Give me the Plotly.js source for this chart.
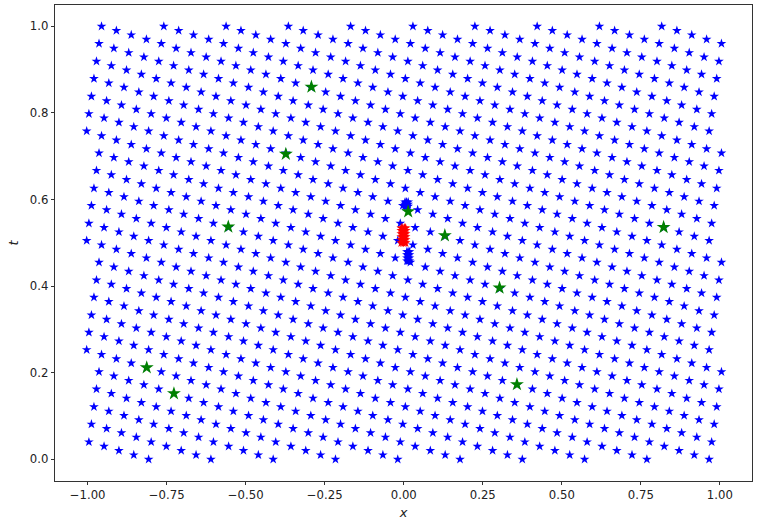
<!DOCTYPE html>
<html>
<head>
<meta charset="utf-8">
<script src="https://cdn.plot.ly/plotly-3.0.1.min.js"></script>
<style>html,body{margin:0;padding:0;background:#fff;}#chart{width:759px;height:523px;}</style>
</head>
<body>
<div id="chart"></div>
<script>
// t value of each horizontal level of collocation points (top to bottom)
const tLevels = [1.000,0.990,0.980,0.970,0.960,0.949,0.939,0.929,0.919,0.909,
0.899,0.889,0.879,0.869,0.859,0.848,0.838,0.828,0.818,0.808,
0.798,0.788,0.778,0.768,0.758,0.747,0.737,0.727,0.717,0.707,
0.697,0.687,0.677,0.667,0.657,0.646,0.636,0.626,0.616,0.606,
0.596,0.586,0.576,0.566,0.556,0.545,0.535,0.525,0.515,0.505,
0.495,0.485,0.475,0.465,0.455,0.444,0.434,0.424,0.414,0.404,
0.394,0.384,0.374,0.364,0.354,0.343,0.333,0.323,0.313,0.303,
0.293,0.283,0.273,0.263,0.253,0.242,0.232,0.222,0.212,0.202,
0.192,0.182,0.172,0.162,0.152,0.141,0.131,0.121,0.111,0.101,
0.091,0.081,0.071,0.061,0.051,0.040,0.030,0.020,0.010,0.000];

// x positions of the stars in each distinct row pattern
const xRows = [
[-0.956,-0.759,-0.562,-0.365,-0.168,0.029,0.225,0.422,0.619,0.816],
[-0.948,-0.751,-0.554,-0.357,-0.161,0.036,0.233,0.430,0.627,0.824],
[-0.940,-0.743,-0.547,-0.350,-0.153,0.044,0.241,0.438,0.635,0.832],
[-0.933,-0.736,-0.539,-0.342,-0.145,0.052,0.249,0.446,0.643,0.840],
[-0.925,-0.728,-0.531,-0.334,-0.137,0.060,0.257,0.454,0.651,0.848],
[-0.917,-0.720,-0.523,-0.326,-0.129,0.068,0.265,0.462,0.659,0.856],
[-0.909,-0.712,-0.515,-0.318,-0.121,0.076,0.273,0.470,0.667,0.864],
[-0.901,-0.704,-0.507,-0.310,-0.113,0.084,0.281,0.478,0.674,0.871],
[-0.893,-0.696,-0.499,-0.302,-0.105,0.092,0.288,0.485,0.682,0.879],
[-0.885,-0.688,-0.491,-0.294,-0.098,0.099,0.296,0.493,0.690,0.887],
[-0.877,-0.680,-0.484,-0.287,-0.090,0.107,0.304,0.501,0.698,0.895],
[-0.870,-0.673,-0.476,-0.279,-0.082,0.115,0.312,0.509,0.706,0.903],
[-0.862,-0.665,-0.468,-0.271,-0.074,0.123,0.320,0.517,0.714,0.911],
[-0.854,-0.657,-0.460,-0.263,-0.066,0.131,0.328,0.525,0.722,0.919],
[-0.846,-0.649,-0.452,-0.255,-0.058,0.139,0.336,0.533,0.730,0.927],
[-0.838,-0.641,-0.444,-0.247,-0.050,0.147,0.344,0.541,0.737,0.934],
[-0.830,-0.633,-0.436,-0.239,-0.042,0.155,0.351,0.548,0.745,0.942],
[-0.822,-0.625,-0.428,-0.231,-0.035,0.162,0.359,0.556,0.753,0.950],
[-0.814,-0.617,-0.421,-0.224,-0.027,0.170,0.367,0.564,0.761,0.958],
[-1.003,-0.807,-0.610,-0.413,-0.216,-0.019,0.178,0.375,0.572,0.769,0.966],
[-0.996,-0.799,-0.602,-0.405,-0.208,-0.011,0.186,0.383,0.580,0.777,0.974],
[-0.988,-0.791,-0.594,-0.397,-0.200,-0.003,0.194,0.391,0.588,0.785,0.982],
[-0.980,-0.783,-0.586,-0.389,-0.192,0.005,0.202,0.399,0.596,0.793,0.990],
[-0.972,-0.775,-0.578,-0.381,-0.184,0.013,0.210,0.407,0.604,0.801,0.997],
[-0.964,-0.767,-0.570,-0.373,-0.176,0.021,0.218,0.415,0.611,0.808,1.005],
[-0.807,-0.610,-0.413,-0.216,-0.019,0.178,0.375,0.572,0.769,0.966]
];

// which row pattern each level uses
const levelRow = [0,6,12,18,24,5,11,17,23,4,10,16,22,3,9,15,21,2,8,14,20,1,7,13,19,
0,6,12,18,24,5,11,17,23,4,10,16,22,3,9,15,21,2,8,14,20,1,7,13,19,
0,6,12,18,24,5,11,17,23,4,10,16,22,3,9,15,21,2,8,14,20,1,7,13,19,
0,6,12,18,24,5,11,17,23,4,10,16,22,3,9,15,21,2,8,14,20,1,7,13,25];

// green points
const greenX = [-0.292,-0.373,-0.555,-0.813,-0.727,0.358,0.014,0.130,0.303,0.822];
const greenT = [0.860,0.705,0.537,0.212,0.152,0.173,0.572,0.517,0.396,0.536];

// red cluster near the centre
const redX = [-0.008,-0.003,0.002,0.006,-0.008,-0.003,0.002,0.006,-0.008,-0.003,0.002,0.006,
              -0.008,-0.003,0.002,0.006,-0.008,-0.003,0.002,0.006,-0.008,-0.003,0.002,0.006];
const redT = [0.500,0.500,0.500,0.500,0.507,0.507,0.507,0.507,0.514,0.514,0.514,0.514,
              0.521,0.521,0.521,0.521,0.528,0.528,0.528,0.528,0.534,0.534,0.534,0.534];

// dense blue clusters above and below the red one
const clusterX = [0.004,0.009,0.014,0.004,0.009,0.014,0.004,0.009,0.014,
                  0.010,0.014,0.018,0.010,0.014,0.018,0.010,0.014,0.018,0.010,0.014,0.018];
const clusterT = [0.584,0.584,0.584,0.589,0.589,0.589,0.594,0.594,0.594,
                  0.458,0.458,0.458,0.465,0.465,0.465,0.472,0.472,0.472,0.479,0.479,0.479];

const blueX = [], blueT = [];
for (let m = 0; m < tLevels.length; m++) {
  const row = xRows[levelRow[m]];
  for (let i = 0; i < row.length; i++) { blueX.push(row[i]); blueT.push(tLevels[m]); }
}

const BLUE = '#0000ff', GREEN = '#008000', RED = '#ff0000';
const traces = [
  {x: blueX, y: blueT, type: 'scatter', mode: 'markers', hoverinfo: 'skip',
   marker: {symbol: 'star', size: 7.3, color: BLUE, line: {width: 0}}},
  {x: clusterX, y: clusterT, type: 'scatter', mode: 'markers', hoverinfo: 'skip',
   marker: {symbol: 'star', size: 7.3, color: BLUE, line: {width: 0}}},
  {x: greenX, y: greenT, type: 'scatter', mode: 'markers', hoverinfo: 'skip',
   marker: {symbol: 'star', size: 10.5, color: GREEN, line: {width: 0}}},
  {x: redX, y: redT, type: 'scatter', mode: 'markers', hoverinfo: 'skip',
   marker: {symbol: 'star', size: 7.3, color: RED, line: {width: 0}}}
];

const axisFont = {family: 'DejaVu Sans, sans-serif', size: 11.7, color: '#222'};
const layout = {
  width: 759, height: 523,
  margin: {l: 55, r: 6.5, t: 5, b: 42},
  paper_bgcolor: '#fff', plot_bgcolor: '#fff',
  showlegend: false,
  xaxis: {
    range: [-1.1032, 1.1016], tickvals: [-1, -0.75, -0.5, -0.25, 0, 0.25, 0.5, 0.75, 1],
    tickformat: '.2f', ticks: 'outside', ticklen: 3.5, tickwidth: 0.8, tickcolor: '#000',
    showline: true, mirror: true, linecolor: '#000', linewidth: 0.8,
    showgrid: false, zeroline: false, tickfont: axisFont,
    title: {text: '<i>x</i>', font: {family: 'DejaVu Sans, sans-serif', size: 13, color: '#222'}, standoff: 6}
  },
  yaxis: {
    range: [-0.0501, 1.0492], tickvals: [0, 0.2, 0.4, 0.6, 0.8, 1.0],
    tickformat: '.1f', ticks: 'outside', ticklen: 3.5, tickwidth: 0.8, tickcolor: '#000',
    showline: true, mirror: true, linecolor: '#000', linewidth: 0.8,
    showgrid: false, zeroline: false, tickfont: axisFont,
    title: {text: '<i>t</i>', font: {family: 'DejaVu Sans, sans-serif', size: 13, color: '#222'}, standoff: 8}
  }
};
Plotly.newPlot('chart', traces, layout, {displayModeBar: false, staticPlot: true});
</script>
</body>
</html>
